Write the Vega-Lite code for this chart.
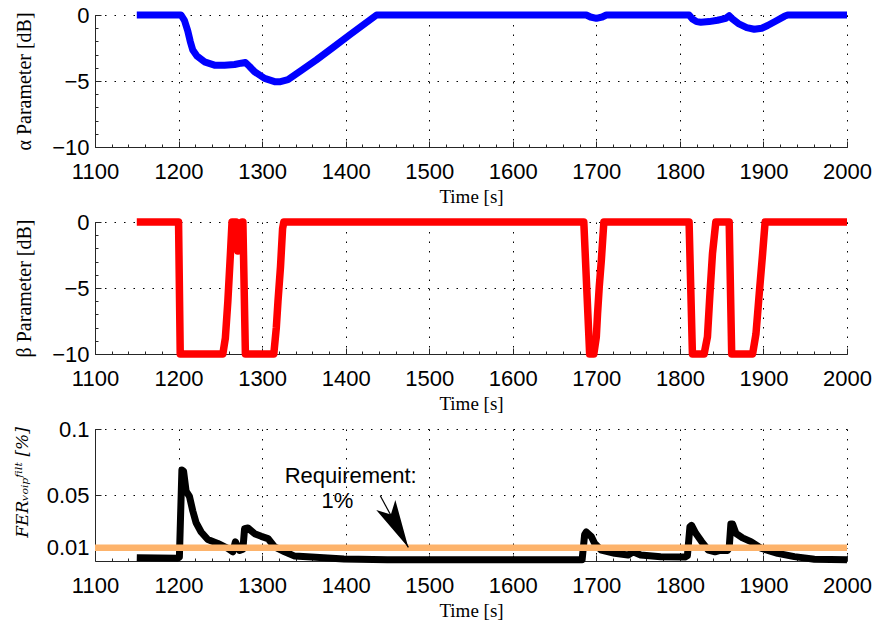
{
  "$schema": "https://vega.github.io/schema/vega-lite/v6.json",
  "background": "white",
  "padding": {"left": 13, "top": 4, "right": 10, "bottom": 5},
  "bounds": "flush",
  "spacing": 75,
  "config": {
    "view": {"stroke": null},
    "axis": {
      "domainColor": "#262626",
      "domainWidth": 1,
      "tickColor": "#262626",
      "tickWidth": 1,
      "labelFont": "Liberation Sans",
      "labelFontSize": 22,
      "labelColor": "#000000",
      "labelFlush": false,
      "labelOverlap": false,
      "labelBound": false,
      "titleFont": "Liberation Serif",
      "titleFontSize": 20,
      "titleFontWeight": "normal",
      "titleColor": "#000000",
      "gridColor": "#000000",
      "gridDash": [1.5, 8],
      "gridWidth": 1
    },
    "axisX": {"labelPadding": 20, "titleFontSize": 19},
    "axisY": {"labelPadding": 12}
  },
  "datasets": {
    "alpha": [
      {"t": 1150, "v": 0}, {"t": 1203, "v": 0}, {"t": 1207, "v": -0.4}, {"t": 1211, "v": -1.2},
      {"t": 1214, "v": -2.0}, {"t": 1217, "v": -2.65}, {"t": 1222, "v": -3.1}, {"t": 1231, "v": -3.55},
      {"t": 1243, "v": -3.8}, {"t": 1255, "v": -3.8}, {"t": 1267, "v": -3.75}, {"t": 1275, "v": -3.65},
      {"t": 1280, "v": -3.6}, {"t": 1285, "v": -3.9}, {"t": 1291, "v": -4.3}, {"t": 1303, "v": -4.8},
      {"t": 1315, "v": -5.05}, {"t": 1322, "v": -5.05}, {"t": 1331, "v": -4.9}, {"t": 1347, "v": -4.2},
      {"t": 1365, "v": -3.4}, {"t": 1385, "v": -2.45}, {"t": 1405, "v": -1.5}, {"t": 1422, "v": -0.7},
      {"t": 1437, "v": 0}, {"t": 1688, "v": 0}, {"t": 1693, "v": -0.15}, {"t": 1700, "v": -0.25},
      {"t": 1707, "v": -0.15}, {"t": 1712, "v": 0}, {"t": 1811, "v": 0}, {"t": 1815, "v": -0.3},
      {"t": 1820, "v": -0.5}, {"t": 1825, "v": -0.55}, {"t": 1835, "v": -0.5}, {"t": 1845, "v": -0.4},
      {"t": 1855, "v": -0.25}, {"t": 1859, "v": -0.05}, {"t": 1863, "v": -0.3}, {"t": 1870, "v": -0.65},
      {"t": 1880, "v": -0.95}, {"t": 1889, "v": -1.08}, {"t": 1898, "v": -1.0}, {"t": 1905, "v": -0.8},
      {"t": 1915, "v": -0.45}, {"t": 1925, "v": -0.1}, {"t": 1929, "v": 0}, {"t": 2000, "v": 0}
    ],
    "beta": [
      {"t": 1150, "v": 0}, {"t": 1200, "v": 0}, {"t": 1202, "v": -10}, {"t": 1253, "v": -10},
      {"t": 1256, "v": -8.8}, {"t": 1259, "v": -6}, {"t": 1262, "v": -2.5}, {"t": 1264, "v": 0},
      {"t": 1269, "v": 0}, {"t": 1271, "v": -2.2}, {"t": 1273, "v": -1.0}, {"t": 1276, "v": 0},
      {"t": 1277, "v": 0}, {"t": 1280, "v": -10}, {"t": 1314, "v": -10}, {"t": 1317, "v": -8},
      {"t": 1319, "v": -6}, {"t": 1322, "v": -3.4}, {"t": 1324.5, "v": -0.5}, {"t": 1326, "v": 0},
      {"t": 1685, "v": 0}, {"t": 1692, "v": -10}, {"t": 1697, "v": -10}, {"t": 1700, "v": -8.7},
      {"t": 1701.5, "v": -6.9}, {"t": 1703.5, "v": -4.9}, {"t": 1706, "v": -2.9}, {"t": 1709, "v": 0},
      {"t": 1811, "v": 0}, {"t": 1815, "v": -10}, {"t": 1829, "v": -10}, {"t": 1833, "v": -8.7},
      {"t": 1836, "v": -5.4}, {"t": 1839, "v": -2.4}, {"t": 1843, "v": 0}, {"t": 1859, "v": 0},
      {"t": 1862, "v": -10}, {"t": 1887, "v": -10}, {"t": 1891, "v": -8.5}, {"t": 1895, "v": -5.4},
      {"t": 1899, "v": -2.4}, {"t": 1902, "v": 0}, {"t": 2000, "v": 0}
    ],
    "fer": [
      {"t": 1150, "v": 0.0025}, {"t": 1175, "v": 0.0022}, {"t": 1199, "v": 0.002}, {"t": 1201, "v": 0.003},
      {"t": 1204, "v": 0.069}, {"t": 1206, "v": 0.068}, {"t": 1209, "v": 0.053}, {"t": 1213, "v": 0.049},
      {"t": 1217, "v": 0.038}, {"t": 1221, "v": 0.029}, {"t": 1227, "v": 0.022}, {"t": 1235, "v": 0.0163},
      {"t": 1247, "v": 0.0133}, {"t": 1259, "v": 0.0096}, {"t": 1265, "v": 0.007}, {"t": 1268, "v": 0.0145},
      {"t": 1273, "v": 0.008}, {"t": 1277, "v": 0.009}, {"t": 1279, "v": 0.0245}, {"t": 1283, "v": 0.025},
      {"t": 1291, "v": 0.0207}, {"t": 1299, "v": 0.0187}, {"t": 1307, "v": 0.017}, {"t": 1315, "v": 0.0107},
      {"t": 1327, "v": 0.007}, {"t": 1339, "v": 0.0037}, {"t": 1359, "v": 0.003}, {"t": 1398, "v": 0.0015},
      {"t": 1450, "v": 0.001}, {"t": 1550, "v": 0.001}, {"t": 1683, "v": 0.001}, {"t": 1686, "v": 0.02},
      {"t": 1688, "v": 0.022}, {"t": 1694, "v": 0.0185}, {"t": 1698, "v": 0.0133}, {"t": 1706, "v": 0.0082},
      {"t": 1722, "v": 0.0058}, {"t": 1738, "v": 0.0045}, {"t": 1744, "v": 0.007}, {"t": 1753, "v": 0.0045},
      {"t": 1777, "v": 0.0033}, {"t": 1806, "v": 0.003}, {"t": 1809, "v": 0.004}, {"t": 1812, "v": 0.026},
      {"t": 1814, "v": 0.027}, {"t": 1819, "v": 0.021}, {"t": 1826, "v": 0.0147}, {"t": 1834, "v": 0.0082},
      {"t": 1842, "v": 0.007}, {"t": 1849, "v": 0.0082}, {"t": 1857, "v": 0.008}, {"t": 1859, "v": 0.01},
      {"t": 1861, "v": 0.028}, {"t": 1863, "v": 0.028}, {"t": 1867, "v": 0.021}, {"t": 1875, "v": 0.0175},
      {"t": 1885, "v": 0.0147}, {"t": 1897, "v": 0.0097}, {"t": 1917, "v": 0.0058}, {"t": 1937, "v": 0.0033},
      {"t": 1961, "v": 0.0013}, {"t": 2000, "v": 0.001}
    ],
    "requirement": [
      {"t": 1100, "v": 0.01}, {"t": 2000, "v": 0.01}
    ],
    "notes": [
      {"t": 1406, "v": 0.0594, "label": "Requirement:"},
      {"t": 1390, "v": 0.0399, "label": "1%"}
    ],
    "arrow": [
      {"t0": 1441.4, "v0": 0.0494, "t1": 1475, "v1": 0.0103}
    ]
  },
  "vconcat": [
    {
      "width": 752,
      "height": 132,
      "data": {"name": "alpha"},
      "mark": {"type": "line", "color": "#0000ff", "strokeWidth": 7, "strokeJoin": "round", "strokeCap": "butt"},
      "encoding": {
        "x": {
          "field": "t", "type": "quantitative",
          "scale": {"domain": [1100, 2000], "nice": false, "zero": false},
          "axis": {
            "title": "Time [s]", "titleY": 49, "titleBaseline": "middle",
            "format": "d",
            "values": [1100,1120,1140,1160,1180,1200,1220,1240,1260,1280,1300,1320,1340,1360,1380,1400,1420,1440,1460,1480,1500,1520,1540,1560,1580,1600,1620,1640,1660,1680,1700,1720,1740,1760,1780,1800,1820,1840,1860,1880,1900,1920,1940,1960,1980,2000],
            "labelExpr": "datum.value % 100 === 0 ? datum.label : ''",
            "gridOpacity": {"condition": {"test": "datum.value % 100 === 0", "value": 1}, "value": 0},
            "tickSize": {"condition": {"test": "datum.value % 100 === 0", "value": -6}, "value": -3}
          }
        },
        "y": {
          "field": "v", "type": "quantitative",
          "scale": {"domain": [-10, 0], "nice": false, "zero": false},
          "axis": {
            "title": "α Parameter [dB]", "titleX": -61, "titleY": 66,
            "format": "d",
            "values": [-10,-9,-8,-7,-6,-5,-4,-3,-2,-1,0],
            "labelExpr": "datum.value % 5 === 0 ? datum.label : ''",
            "gridOpacity": {"condition": {"test": "datum.value % 5 === 0", "value": 1}, "value": 0},
            "tickSize": {"condition": {"test": "datum.value % 5 === 0", "value": -6}, "value": -3}
          }
        }
      }
    },
    {
      "width": 752,
      "height": 132,
      "data": {"name": "beta"},
      "mark": {"type": "line", "color": "#ff0000", "strokeWidth": 7.5, "strokeJoin": "round", "strokeCap": "butt"},
      "encoding": {
        "x": {
          "field": "t", "type": "quantitative",
          "scale": {"domain": [1100, 2000], "nice": false, "zero": false},
          "axis": {
            "title": "Time [s]", "titleY": 49, "titleBaseline": "middle",
            "format": "d",
            "values": [1100,1120,1140,1160,1180,1200,1220,1240,1260,1280,1300,1320,1340,1360,1380,1400,1420,1440,1460,1480,1500,1520,1540,1560,1580,1600,1620,1640,1660,1680,1700,1720,1740,1760,1780,1800,1820,1840,1860,1880,1900,1920,1940,1960,1980,2000],
            "labelExpr": "datum.value % 100 === 0 ? datum.label : ''",
            "gridOpacity": {"condition": {"test": "datum.value % 100 === 0", "value": 1}, "value": 0},
            "tickSize": {"condition": {"test": "datum.value % 100 === 0", "value": -6}, "value": -3}
          }
        },
        "y": {
          "field": "v", "type": "quantitative",
          "scale": {"domain": [-10, 0], "nice": false, "zero": false},
          "axis": {
            "title": "β Parameter [dB]", "titleX": -61, "titleY": 66,
            "format": "d",
            "values": [-10,-9,-8,-7,-6,-5,-4,-3,-2,-1,0],
            "labelExpr": "datum.value % 5 === 0 ? datum.label : ''",
            "gridOpacity": {"condition": {"test": "datum.value % 5 === 0", "value": 1}, "value": 0},
            "tickSize": {"condition": {"test": "datum.value % 5 === 0", "value": -6}, "value": -3}
          }
        }
      }
    },
    {
      "width": 752,
      "height": 132,
      "encoding": {
        "x": {
          "field": "t", "type": "quantitative",
          "scale": {"domain": [1100, 2000], "nice": false, "zero": false},
          "axis": {
            "title": "Time [s]", "titleY": 49, "titleBaseline": "middle",
            "format": "d",
            "values": [1100,1120,1140,1160,1180,1200,1220,1240,1260,1280,1300,1320,1340,1360,1380,1400,1420,1440,1460,1480,1500,1520,1540,1560,1580,1600,1620,1640,1660,1680,1700,1720,1740,1760,1780,1800,1820,1840,1860,1880,1900,1920,1940,1960,1980,2000],
            "labelExpr": "datum.value % 100 === 0 ? datum.label : ''",
            "gridOpacity": {"condition": {"test": "datum.value % 100 === 0", "value": 1}, "value": 0},
            "tickSize": {"condition": {"test": "datum.value % 100 === 0", "value": -6}, "value": -3}
          }
        },
        "y": {
          "field": "v", "type": "quantitative",
          "scale": {"domain": [0, 0.1], "nice": false, "zero": false},
          "axis": {
            "title": "FERᵥₒᵢₚᶠⁱˡᵗ [%]", "titleX": -64, "titleY": 53,
            "titleFont": "DejaVu Serif", "titleFontSize": 17, "titleFontStyle": "italic",
            "format": ".2~f",
            "values": [0.01, 0.05, 0.1],
            "tickSize": -6
          }
        }
      },
      "layer": [
        {
          "data": {"name": "fer"},
          "mark": {"type": "line", "color": "#000000", "strokeWidth": 7, "strokeJoin": "round", "strokeCap": "butt"}
        },
        {
          "data": {"name": "requirement"},
          "mark": {"type": "line", "color": "#fdb36b", "strokeWidth": 6.5, "strokeCap": "butt"}
        },
        {
          "data": {"name": "notes"},
          "mark": {"type": "text", "font": "Liberation Sans", "fontSize": 22, "color": "#000000", "align": "center", "baseline": "alphabetic"},
          "encoding": {"text": {"field": "label"}}
        },
        {
          "data": {"name": "arrow"},
          "mark": {"type": "rule", "color": "#000000", "strokeWidth": 1.2},
          "encoding": {
            "x": {"field": "t0", "type": "quantitative"},
            "x2": {"field": "t1"},
            "y": {"field": "v0", "type": "quantitative"},
            "y2": {"field": "v1"}
          }
        },
        {
          "data": {"name": "arrow"},
          "mark": {"type": "point", "shape": "M0,0L-0.45,-2L0,-1.55L0.45,-2Z", "filled": true, "color": "#000000", "opacity": 1, "size": 2304, "angle": 332, "strokeWidth": 0},
          "encoding": {
            "x": {"field": "t1", "type": "quantitative"},
            "y": {"field": "v1", "type": "quantitative"}
          }
        }
      ]
    }
  ]
}
